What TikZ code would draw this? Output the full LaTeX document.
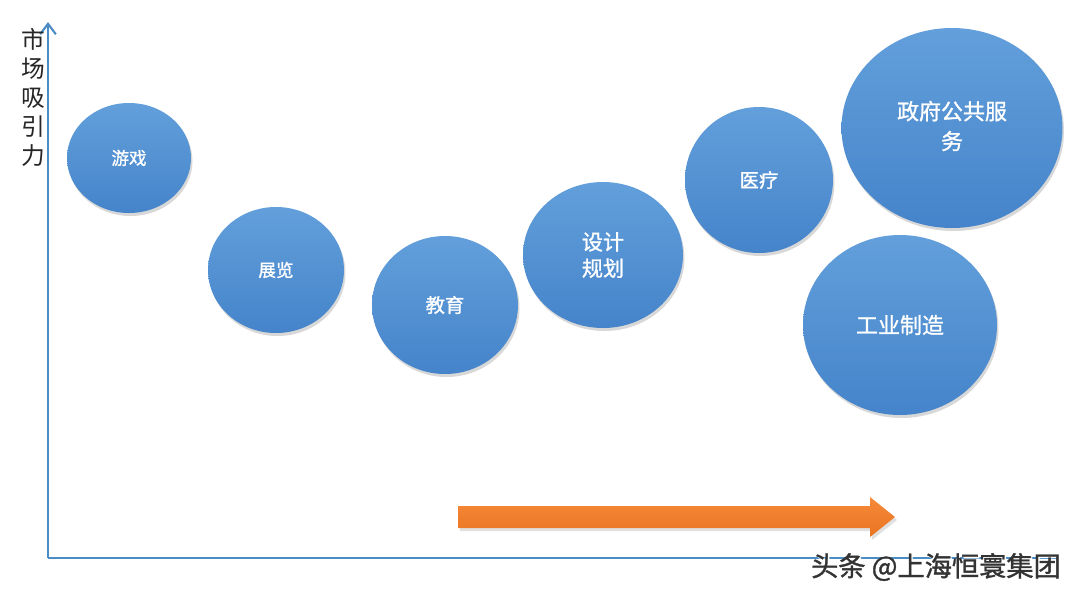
\documentclass[tikz,border=0pt]{standalone}
\usepackage{fontspec}
\newfontfamily\cjk{Noto Sans CJK SC}
\newfontfamily\cjkb{Noto Sans CJK SC}[FakeBold=1.2]
\usetikzlibrary{shapes.geometric,shadows,arrows.meta}
\definecolor{axisblue}{HTML}{4A8CC6}
\definecolor{bubtop}{HTML}{629FDB}
\definecolor{bubbot}{HTML}{4584CA}
\definecolor{orangeA}{HTML}{F58A3A}
\definecolor{orangeB}{HTML}{EA7420}
\tikzset{
  bubble/.style={ellipse, top color=bubtop, bottom color=bubbot, draw=none,
    drop shadow={shadow xshift=0.03cm, shadow yshift=-0.06cm, opacity=0.25, fill=black!60},
    text=white, font=\cjkb, align=center, inner sep=0pt},
  axisline/.style={draw=axisblue, line width=1.2pt},
}
\begin{document}
\begin{tikzpicture}[x=0.02cm, y=-0.02cm]
\useasboundingbox (0,0) rectangle (1080,600);
\fill[white] (0,0) rectangle (1080,600);
% axes
\coordinate (O) at (48,558);
\coordinate (Ytop) at (48,22);
\coordinate (Xend) at (1060,558);
\draw[axisline, -{Straight Barb[length=6pt,width=9pt]}] (O) -- (Ytop);
\draw[axisline] (O) -- (Xend);
\node[font=\cjk\fontsize{13.5}{16.5}\selectfont, align=center, inner sep=0pt, text=black!85] (ylab) at (33,97) {市\\场\\吸\\引\\力};
% bubbles
\node[bubble, minimum width=124*0.02cm, minimum height=110*0.02cm, font=\cjkb\fontsize{10}{12}\selectfont] (game) at (129,158) {游戏};
\node[bubble, minimum width=136*0.02cm, minimum height=126*0.02cm, font=\cjkb\fontsize{10}{12}\selectfont] (expo) at (276,270) {展览};
\node[bubble, minimum width=146*0.02cm, minimum height=138*0.02cm, font=\cjkb\fontsize{11}{13}\selectfont] (edu) at (445,305) {教育};
\node[bubble, minimum width=160*0.02cm, minimum height=146*0.02cm, font=\cjkb\fontsize{12}{15}\selectfont] (design) at (603,255) {设计\\规划};
\node[bubble, minimum width=148*0.02cm, minimum height=146*0.02cm, font=\cjkb\fontsize{11}{13}\selectfont] (med) at (759,180) {医疗};
\node[bubble, minimum width=221*0.02cm, minimum height=200*0.02cm] (gov) at (952,128) {};
\node[font=\cjkb\fontsize{12.5}{17}\selectfont, text=white, align=center, inner sep=0pt] (govt) at (952,126) {政府公共服\\务};
\node[bubble, minimum width=194*0.02cm, minimum height=180*0.02cm, font=\cjkb\fontsize{12.5}{15}\selectfont] (ind) at (900,325) {工业制造};
% orange arrow
\fill[black!40, opacity=0.3, shift={(2,3)}] (458,506) -- (870,506) -- (870,497) -- (895,517) -- (870,537) -- (870,528) -- (458,528) -- cycle;
\shade[top color=orangeA, bottom color=orangeB] (458,506) -- (870,506) -- (870,497) -- (895,517) -- (870,537) -- (870,528) -- (458,528) -- cycle;
% watermark
\node[font=\cjkb\fontsize{15.5}{18}\selectfont, text=white, inner sep=0pt] at (937.5,568.5) {头条 @上海恒寰集团};
\node[font=\cjkb\fontsize{15.5}{18}\selectfont, text=black!80, inner sep=0pt] (wm) at (936,567) {头条 @上海恒寰集团};
\end{tikzpicture}
\end{document}
